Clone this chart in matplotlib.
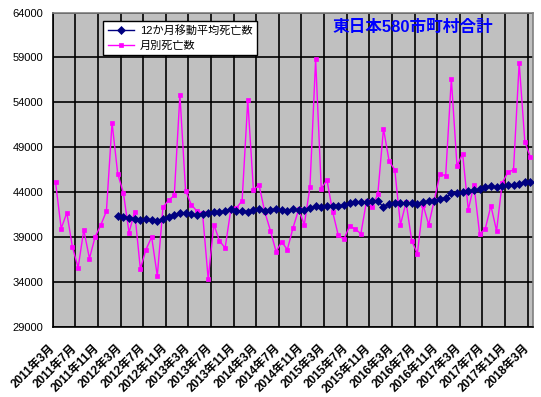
import numpy as np
import matplotlib
matplotlib.use("Agg")
import matplotlib.pyplot as plt

plt.rcParams['font.family'] = ['Liberation Sans', 'Noto Sans CJK JP', 'DejaVu Sans']

# 2011年3月 〜 2018年3月 (85か月)
start_year = 2011
start_month = 3
n_months = 85

monthly_deaths = [
    45140, 39960, 41700, 37880, 35610, 39810, 36620, 39030, 40330, 41890,
    51740, 46050, 43930, 39510, 41820, 35460, 37620, 39030, 34680, 42300,
    43120, 43640, 54820, 44190, 42630, 41890, 41670, 34350, 40400, 38580,
    37800, 42080, 42260, 43040, 54230, 44270, 44790, 41820, 39740, 37400,
    38470, 37620, 40030, 42080, 40400, 44600, 58790, 44380, 45380, 41850,
    39220, 38770, 40220, 39920, 39370, 43010, 42300, 43820, 51070, 47460,
    46500, 40370, 42890, 38580, 37170, 42600, 40370, 43150, 46050, 45830,
    56640, 46940, 48280, 42040, 44830, 39370, 39920, 42490, 39700, 45050,
    46200, 46500, 58420, 49620, 47870,
]

# 12か月移動平均 (2012年2月から)
moving_avg = [np.nan] * 11 + [
    41300, 41220, 41150, 41070, 40890, 41000, 40890, 40780, 41070, 41260,
    41480, 41670, 41670, 41560, 41480, 41590, 41670, 41820, 41780, 41930,
    42080, 41930, 41930, 41850, 41970, 42080, 41890, 42000, 42150, 42040,
    41890, 42080, 41970, 42000, 42190, 42450, 42410, 42490, 42520, 42500,
    42560, 42750, 42860, 42860, 42930, 43040, 43010, 42340, 42710, 42780,
    42750, 42820, 42820, 42710, 42890, 42970, 43040, 43270, 43380, 43860,
    43900, 43970, 44160, 44230, 44340, 44530, 44680, 44570, 44680, 44750,
    44790, 44900, 45090, 45090,
]

month_labels = []
for i in range(n_months):
    m = start_month + i
    y = start_year + (m - 1) // 12
    mm = (m - 1) % 12 + 1
    month_labels.append("%d年%d月" % (y, mm))

x = np.arange(n_months)

fig = plt.figure(figsize=(5.41, 3.97), dpi=100)
ax = fig.add_axes([0.0974, 0.1763, 0.8884, 0.7922])
ax.set_facecolor("#C0C0C0")

ax.plot(x, moving_avg, color="#000080", lw=1, marker="D", ms=4.2, mew=0.5,
        label="12か月移動平均死亡数", zorder=4)
ax.plot(x, monthly_deaths, color="#FF00FF", lw=1, marker="s", ms=3.2, mew=0.5,
        label="月別死亡数", zorder=3)

ax.set_ylim(29000, 64000)
ax.set_yticks(np.arange(29000, 64001, 5000))

# gridline every 4 months between categories, label hangs off each line
tick_pos = x[::4]
ax.set_xticks(tick_pos - 0.5)
ax.set_xticklabels([month_labels[i] for i in tick_pos], rotation=45,
                   ha="right", va="center", rotation_mode="anchor",
                   fontsize=8.5, fontweight="bold")
ax.set_xlim(-0.5, n_months - 0.5)
ax.grid(True, color="black", lw=1.2)
ax.tick_params(axis="both", which="both", length=0)
ax.tick_params(axis="y", labelsize=8, pad=7)
ax.tick_params(axis="x", pad=14)
ax.set_axisbelow(True)

for s in ["left", "bottom"]:
    ax.spines[s].set_color("black")
    ax.spines[s].set_linewidth(1.2)
for s in ["top", "right"]:
    ax.spines[s].set_color("#808080")
    ax.spines[s].set_linewidth(1.2)

leg = ax.legend(loc="upper left", bbox_to_anchor=(0.105, 0.973),
                borderaxespad=0, fontsize=8, fancybox=False, framealpha=1,
                edgecolor="black", borderpad=0.4, handlelength=2.4,
                handletextpad=0.5, labelspacing=0.4)
leg.get_frame().set_linewidth(1.0)

ax.text(0.75, 0.954, "東日本580市町村合計", transform=ax.transAxes,
        ha="center", va="center", fontsize=12, fontweight="bold",
        color="#0000FF", zorder=6)

fig.savefig("out.png", dpi=100)
